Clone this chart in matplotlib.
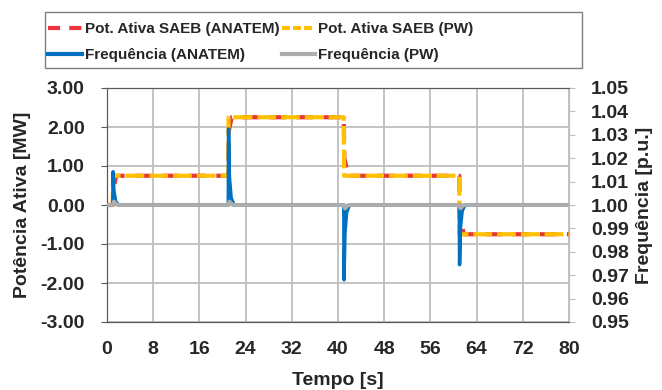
import matplotlib
matplotlib.use('Agg')
import matplotlib.pyplot as plt
from matplotlib.lines import Line2D
from matplotlib.patches import Rectangle

plt.rcParams['font.family'] = ['Liberation Sans', 'DejaVu Sans']
plt.rcParams['font.weight'] = 'bold'

# dados
t_pot_anatem = [0, 1.0, 1.1, 1.6, 21.0, 21.1, 21.6, 41.0, 41.1, 41.8, 61.0, 61.1, 61.8, 80]
pot_anatem = [0, 0, 0.40, 0.75, 0.75, 1.90, 2.25, 2.25, 1.20, 0.75, 0.75, -0.30, -0.75, -0.75]

t_pot_pw = [0, 1.0, 1.05, 21.0, 21.05, 41.0, 41.05, 61.0, 61.05, 80]
pot_pw = [0, 0, 0.75, 0.75, 2.25, 2.25, 0.75, 0.75, -0.75, -0.75]

t_freq_anatem = [0, 1.0, 1.05, 1.2, 1.5, 2.0, 21.0, 21.05, 21.2, 21.5, 22.0,
                 41.0, 41.05, 41.2, 41.5, 42.0, 61.0, 61.05, 61.2, 61.5, 62.0, 80]
freq_anatem = [1.0, 1.0, 1.0142, 1.006, 1.0015, 1.0, 1.0, 1.0325, 1.012, 1.003, 1.0,
               1.0, 0.968, 0.988, 0.997, 1.0, 1.0, 0.9745, 0.990, 0.9975, 1.0, 1.0]

t_freq_pw = [0, 1.0, 1.2, 1.8, 21.0, 21.2, 21.8, 41.0, 41.2, 41.8, 61.0, 61.2, 61.8, 80]
freq_pw = [1.0, 1.0, 1.0015, 1.0, 1.0, 1.0015, 1.0, 1.0, 0.9985, 1.0, 1.0, 0.9985, 1.0, 1.0]

x_ticks = [0, 8, 16, 24, 32, 40, 48, 56, 64, 72, 80]
y1_ticks = [-3, -2, -1, 0, 1, 2, 3]
y2_ticks = [0.95, 0.96, 0.97, 0.98, 0.99, 1.00, 1.01, 1.02, 1.03, 1.04, 1.05]

cor_texto = '#262626'
vermelho = '#E8343A'
amarelo = '#FFC000'
azul = '#0070C0'
cinza = '#ADADAD'

fig = plt.figure(figsize=(6.62, 3.9), dpi=100)
ax1 = fig.add_axes([107/662, 1-322/390, (569-107)/662, (322-88)/390])
ax2 = ax1.twinx()

# potencia (eixo da esquerda)
ax1.plot(t_pot_anatem, pot_anatem, color=vermelho, lw=3, dashes=(4, 2.5), zorder=3)
ax1.plot(t_pot_pw, pot_pw, color=amarelo, lw=3, dashes=(4.5, 1.2), zorder=4)

# frequencia (eixo da direita)
ax2.plot(t_freq_anatem, freq_anatem, color=azul, lw=2.5, zorder=3)
ax2.plot(t_freq_pw, freq_pw, color=cinza, lw=2.8, zorder=4)

ax1.set_xlim(0, 80)
ax1.set_ylim(-3, 3)
ax2.set_ylim(0.95, 1.05)
ax1.set_xticks(x_ticks)
ax1.set_yticks(y1_ticks)
ax2.set_yticks(y2_ticks)
ax1.set_yticklabels(['%.2f' % v for v in y1_ticks])
ax2.set_yticklabels(['%.2f' % v for v in y2_ticks])

ax1.grid(True, color='#BEBEBE', lw=1.3)
ax1.set_axisbelow(True)

ax1.tick_params(axis='x', length=0, pad=14, labelsize=14, labelcolor=cor_texto)
ax1.tick_params(axis='y', length=4, color='#595959', pad=12, labelsize=14, labelcolor=cor_texto)
ax2.tick_params(axis='y', length=4, color='#BFBFBF', pad=12, labelsize=14, labelcolor=cor_texto)

for s in ['left', 'bottom', 'top']:
    ax1.spines[s].set_color('#595959')
    ax2.spines[s].set_color('#595959')
ax1.spines['right'].set_color('#BFBFBF')
ax2.spines['right'].set_color('#BFBFBF')

ax1.set_xlabel('Tempo [s]', fontsize=14, fontweight='bold', color=cor_texto, labelpad=10)
ax1.set_ylabel('Potência Ativa [MW]', fontsize=14, fontweight='bold', color=cor_texto, labelpad=7)
ax2.set_ylabel('Frequência [p.u.]', fontsize=14, fontweight='bold', color=cor_texto,
               rotation=90, labelpad=5)

# legenda com moldura desenhada a parte
fig.patches.append(Rectangle((45/662, 1-68/390), (582-45)/662, (68-12)/390,
                             transform=fig.transFigure, fill=False,
                             edgecolor='#7F7F7F', lw=1))
handles = [
    Line2D([], [], color=vermelho, lw=3, dashes=(2.9, 2.2)),
    Line2D([], [], color=azul, lw=3),
    Line2D([], [], color=amarelo, lw=3, dashes=(1.9, 0.75)),
    Line2D([], [], color=cinza, lw=3),
]
labels = ['Pot. Ativa SAEB (ANATEM)', 'Frequência (ANATEM)',
          'Pot. Ativa SAEB (PW)', 'Frequência (PW)']
leg = fig.legend(handles, labels, ncol=2, loc='upper left',
                 bbox_to_anchor=(48/662, 1-22/390), fontsize=11,
                 frameon=False, borderpad=0, borderaxespad=0,
                 handlelength=2.2, handletextpad=0.2, columnspacing=0.15,
                 labelspacing=0.8)
for txt in leg.get_texts():
    txt.set_color(cor_texto)

fig.savefig('out.png', dpi=100)
